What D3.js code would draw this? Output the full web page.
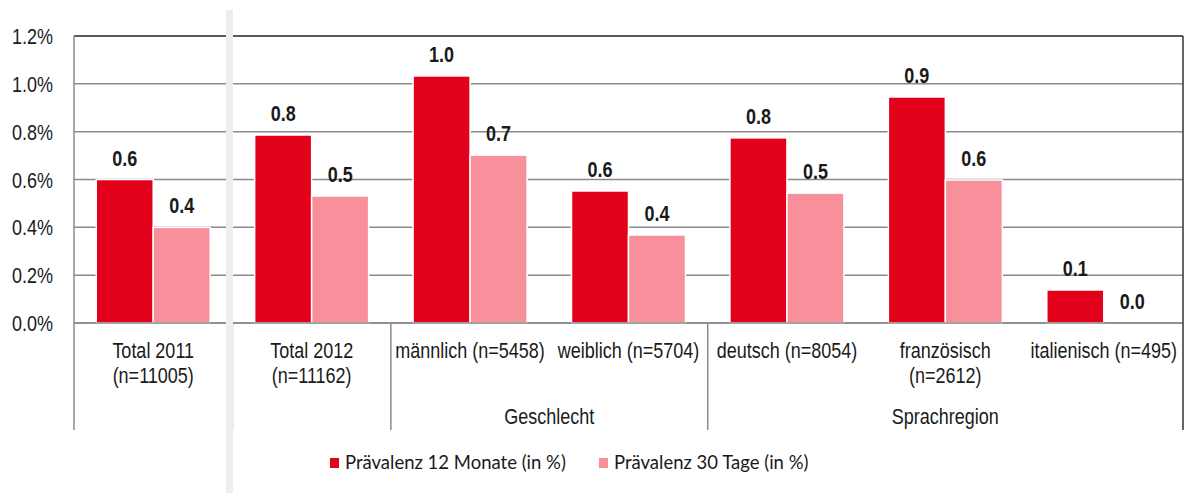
<!DOCTYPE html>
<html>
<head>
<meta charset="utf-8">
<script src="https://cdn.jsdelivr.net/npm/d3@7"></script>
<style>
  html, body { margin: 0; padding: 0; background: #fff; }
  svg { display: block; }
  .tick-label, .cat-label, .group-label { font-family: "Liberation Sans", Arial, sans-serif; font-size: 22.5px; fill: #1a1a1a; }
  .value-label { font-family: "Liberation Sans", Arial, sans-serif; font-size: 22.5px; font-weight: bold; fill: #1a1a1a; }
  .legend-label { font-family: Lato, "Open Sans", sans-serif; font-size: 18.5px; fill: #1a1a1a; }
</style>
</head>
<body>
<svg id="chart"></svg>
<script>
const WIDTH = 1186;
const HEIGHT = 493;
const NARROW = 0.8; // squeeze Liberation Sans to look like Arial Narrow

// categories (first line, second line)
const categories = ["Total 2011", "Total 2012", "männlich", "weiblich", "deutsch", "französisch", "italienisch"];
const categoryLines = [
  ["Total 2011", "(n=11005)"],
  ["Total 2012", "(n=11162)"],
  ["männlich (n=5458)"],
  ["weiblich (n=5704)"],
  ["deutsch (n=8054)"],
  ["französisch", "(n=2612)"],
  ["italienisch (n=495)"]
];
const groups = [
  { label: "Geschlecht", from: "männlich", to: "weiblich" },
  { label: "Sprachregion", from: "deutsch", to: "italienisch" }
];

const seriesNames = ["Prävalenz 12 Monate (in %)", "Prävalenz 30 Tage (in %)"];
const prev12 = [0.60, 0.786, 1.033, 0.552, 0.774, 0.945, 0.138];
const prev30 = [0.40, 0.531, 0.702, 0.368, 0.543, 0.598, 0.0];
const yTicks = [0, 0.2, 0.4, 0.6, 0.8, 1.0, 1.2];
const colors = ["#E3001B", "#F8909C"];

const margin = { left: 74, right: 3, top: 36, bottom: 170 };
const plotRight = WIDTH - margin.right;
const plotBottom = HEIGHT - margin.bottom;

const svg = d3.select("#chart").attr("width", WIDTH).attr("height", HEIGHT);

const x = d3.scaleBand().domain(categories).range([margin.left, plotRight]).padding(0);
const xs = d3.scaleBand().domain([0, 1]).range([0, x.bandwidth()]).paddingInner(0).paddingOuter(0.39);
const y = d3.scaleLinear().domain([0, 1.2]).range([plotBottom, margin.top]);

const narrow = (px, py) => `translate(${px},${py}) scale(${NARROW},1)`;

// gridlines
svg.append("g")
  .selectAll("line")
  .data(yTicks.slice(0, -1))
  .join("line")
  .attr("x1", margin.left).attr("x2", plotRight)
  .attr("y1", d => y(d)).attr("y2", d => y(d))
  .attr("stroke", "#8a8a8a").attr("stroke-width", 1.5);

// top border
svg.append("line")
  .attr("x1", margin.left).attr("x2", plotRight)
  .attr("y1", y(1.2)).attr("y2", y(1.2))
  .attr("stroke", "#222").attr("stroke-width", 1.5);

// y axis labels
svg.append("g")
  .selectAll("text")
  .data(yTicks)
  .join("text")
  .attr("class", "tick-label")
  .attr("transform", d => narrow(53, y(d) + 8))
  .attr("text-anchor", "end")
  .text(d => d3.format(".1f")(d) + "%");

// bars
const rows = categories.map((c, i) => ({ cat: c, vals: [prev12[i], prev30[i]] }));
const catG = svg.append("g")
  .selectAll("g")
  .data(rows)
  .join("g")
  .attr("transform", d => `translate(${x(d.cat)},0)`);

catG.selectAll("rect")
  .data(d => d.vals.map((v, k) => ({ v, k })))
  .join("rect")
  .attr("x", d => xs(d.k))
  .attr("width", xs.bandwidth())
  .attr("y", d => y(d.v))
  .attr("height", d => plotBottom - y(d.v))
  .attr("fill", d => colors[d.k])
  .attr("stroke", "#fff")
  .attr("stroke-width", 1.5);

catG.selectAll("text")
  .data(d => d.vals.map((v, k) => ({ v, k })))
  .join("text")
  .attr("class", "value-label")
  .attr("transform", d => narrow(xs(d.k) + xs.bandwidth() / 2, y(d.v) - 14))
  .attr("text-anchor", "middle")
  .text(d => d3.format(".1f")(d.v));

// y axis line
svg.append("line")
  .attr("x1", margin.left).attr("x2", margin.left)
  .attr("y1", margin.top).attr("y2", plotBottom)
  .attr("stroke", "#8a8a8a").attr("stroke-width", 1.5);

// x axis line
svg.append("line")
  .attr("x1", margin.left).attr("x2", plotRight)
  .attr("y1", plotBottom).attr("y2", plotBottom)
  .attr("stroke", "#8a8a8a").attr("stroke-width", 1.5);

// right border
svg.append("line")
  .attr("x1", plotRight).attr("x2", plotRight)
  .attr("y1", margin.top).attr("y2", 430)
  .attr("stroke", "#333").attr("stroke-width", 1.5);

// category separators below the axis
const sepX = [x(categories[0]), x(categories[1]), x("männlich"), x("deutsch")];
svg.append("g")
  .selectAll("line")
  .data(sepX)
  .join("line")
  .attr("x1", d => d).attr("x2", d => d)
  .attr("y1", plotBottom).attr("y2", 430)
  .attr("stroke", "#8a8a8a").attr("stroke-width", 1.5);

// category labels
const labelG = svg.append("g")
  .selectAll("text")
  .data(categoryLines.map((lines, i) => ({ lines, cat: categories[i] })))
  .join("text")
  .attr("class", "cat-label")
  .attr("text-anchor", "middle")
  .attr("transform", d => narrow(x(d.cat) + x.bandwidth() / 2, 358));
labelG.selectAll("tspan")
  .data(d => d.lines)
  .join("tspan")
  .attr("x", 0)
  .attr("dy", (d, i) => i === 0 ? 0 : 25)
  .text(d => d);

// group labels
svg.append("g")
  .selectAll("text")
  .data(groups)
  .join("text")
  .attr("class", "group-label")
  .attr("text-anchor", "middle")
  .attr("transform", d => narrow((x(d.from) + x(d.to) + x.bandwidth()) / 2, 424))
  .text(d => d.label);

// gray separator band
svg.append("rect")
  .attr("x", 226).attr("y", 10)
  .attr("width", 7).attr("height", HEIGHT - 10)
  .attr("fill", "#eeeeee");

// legend
const legendX = [330, 599];
const leg = svg.append("g")
  .selectAll("g")
  .data(seriesNames)
  .join("g")
  .attr("transform", (d, i) => `translate(${legendX[i]},458)`);
leg.append("rect")
  .attr("width", 9).attr("height", 10)
  .attr("fill", (d, i) => colors[i]);
leg.append("text")
  .attr("class", "legend-label")
  .attr("x", 15).attr("y", 11)
  .text(d => d);
</script>
</body>
</html>
